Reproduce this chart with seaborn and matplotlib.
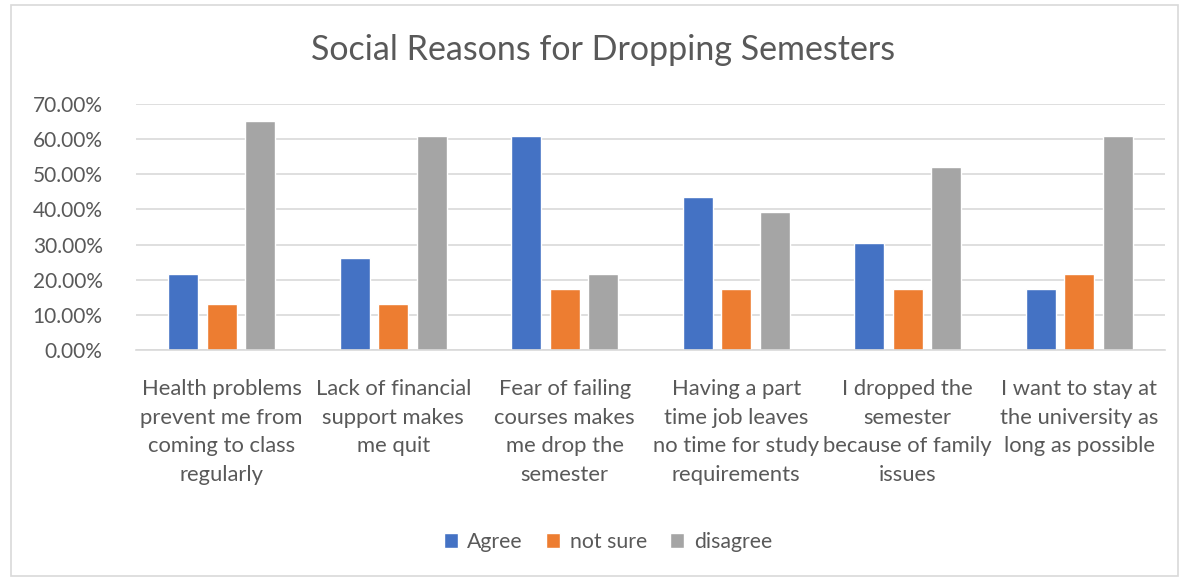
import matplotlib
matplotlib.use("Agg")
import matplotlib.pyplot as plt
import seaborn as sns
import pandas as pd
from matplotlib.patches import Rectangle
from matplotlib.ticker import FuncFormatter, MultipleLocator

categories = [
    "Health problems\nprevent me from\ncoming to class\nregularly",
    "Lack of financial\nsupport makes\nme quit",
    "Fear of failing\ncourses makes\nme drop the\nsemester",
    "Having a part\ntime job leaves\nno time for study\nrequirements",
    "I dropped the\nsemester\nbecause of family\nissues",
    "I want to stay at\nthe university as\nlong as possible",
]
series = ["Agree", "not sure", "disagree"]
agree = [0.2174, 0.2609, 0.6087, 0.4348, 0.3043, 0.1739]
not_sure = [0.1304, 0.1304, 0.1739, 0.1739, 0.1739, 0.2174]
disagree = [0.6522, 0.6087, 0.2174, 0.3913, 0.5217, 0.6087]

colors = ["#4472C4", "#ED7D31", "#A5A5A5"]
text_color = "#595959"

rows = []
for s, vals in zip(series, [agree, not_sure, disagree]):
    for c, v in zip(categories, vals):
        rows.append({"category": c, "series": s, "value": v})
df = pd.DataFrame(rows)

sns.set_style("white")
plt.rcParams["font.family"] = ["Lato", "DejaVu Sans"]

fig = plt.figure(figsize=(11.86, 5.78), dpi=100)
ax = fig.add_axes([136/1186, 1-350/578, 1029/1186, 246/578])

sns.barplot(data=df, x="category", y="value", hue="series", order=categories,
            hue_order=series, palette=colors, width=0.673, gap=0.22,
            saturation=1, ax=ax, legend=True)

ax.set_ylim(0, 0.70)
ax.set_xlim(-0.5, len(categories) - 0.5)
ax.yaxis.set_major_locator(MultipleLocator(0.10))
ax.yaxis.set_major_formatter(FuncFormatter(lambda v, p: f"{v*100:.2f}%"))
ax.grid(axis="y", color="#D9D9D9", linewidth=1.2)
ax.set_axisbelow(True)
for side in ["top", "right", "left"]:
    ax.spines[side].set_visible(False)
ax.spines["bottom"].set_color("#D9D9D9")
ax.spines["bottom"].set_linewidth(1.2)
ax.set_xlabel("")
ax.set_ylabel("")
ax.tick_params(axis="y", length=0, labelsize=15, labelcolor=text_color, pad=24)
ax.set_xticks(range(len(categories)))
ax.set_xticklabels(categories, linespacing=1.54, fontsize=15.8, color=text_color, va="top")
ax.tick_params(axis="x", length=0, pad=21)

handles, labels = ax.get_legend_handles_labels()
ax.legend_.remove()
fig.legend(handles, labels, loc="center", bbox_to_anchor=(608/1186, 1-542/578),
           ncol=3, frameon=False, fontsize=15.3, labelcolor=text_color,
           handlelength=0.65, handleheight=0.65, handletextpad=0.45, columnspacing=1.1)

fig.text(603/1186, 1-50/578, "Social Reasons for Dropping Semesters",
         ha="center", va="center", fontsize=24.5, color=text_color)

fig.patches.append(Rectangle((11/1186, 1-576/578), (1178-11)/1186, (576-5)/578,
                             transform=fig.transFigure, fill=False,
                             edgecolor="#D9D9D9", linewidth=1.2))

fig.savefig("out.png", dpi=100, facecolor="white")
